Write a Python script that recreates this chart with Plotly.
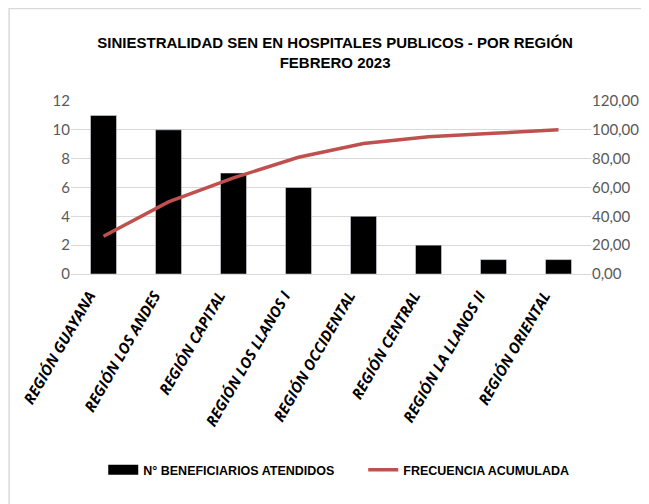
import plotly.graph_objects as go
from plotly.subplots import make_subplots

regiones = ["REGIÓN GUAYANA", "REGIÓN LOS ANDES", "REGIÓN CAPITAL", "REGIÓN LOS LLANOS I",
            "REGIÓN OCCIDENTAL", "REGIÓN CENTRAL", "REGIÓN LA LLANOS II", "REGIÓN ORIENTAL"]
beneficiarios = [11, 10, 7, 6, 4, 2, 1, 1]
frecuencia_acumulada = [26.19, 50.00, 66.67, 80.95, 90.48, 95.24, 97.62, 100.00]

fig = make_subplots(specs=[[{"secondary_y": True}]])

fig.add_trace(go.Bar(x=regiones, y=beneficiarios, name="N° BENEFICIARIOS ATENDIDOS",
                     marker=dict(color="black"), width=0.4, showlegend=False), secondary_y=False)
# entrada de leyenda con el rectángulo ancho (como en Excel)
fig.add_trace(go.Scatter(x=[None], y=[None], mode="lines", name="N° BENEFICIARIOS ATENDIDOS",
                         line=dict(color="black", width=10)), secondary_y=False)
fig.add_trace(go.Scatter(x=regiones, y=frecuencia_acumulada, mode="lines", name="FRECUENCIA ACUMULADA",
                         line=dict(color="#C0504D", width=3.5)), secondary_y=True)

tick_font = dict(family="Lato, Carlito, sans-serif", size=15, color="#595959")

# la página tiene 8px de margen en el body -> se compensa en los márgenes
fig.update_layout(
    width=649, height=504,
    margin=dict(l=63, r=66, t=93, b=238),
    paper_bgcolor="white", plot_bgcolor="white",
    separators=",.",
    title=dict(text="SINIESTRALIDAD SEN EN HOSPITALES PUBLICOS - POR REGIÓN<br>FEBRERO 2023",
               x=0.504, xanchor="center", y=0.92, yanchor="middle",
               font=dict(family="Liberation Sans Narrow, Arial Narrow, Liberation Sans, sans-serif", size=15,
                         color="black", weight="bold")),
    legend=dict(orientation="h", x=0.562, xanchor="center", y=-1.133, yanchor="middle",
                entrywidth=215,
                font=dict(family="Liberation Sans Narrow, Arial Narrow, Liberation Sans, sans-serif", size=12.5,
                          color="black", weight="bold")),
    showlegend=True,
)

fig.update_xaxes(domain=[0, 1], tickangle=-60, showgrid=False, showline=True, linecolor="#D9D9D9",
                 automargin=False, ticks="", ticklabelstandoff=6, ticklabelshift=-14,
                 tickfont=dict(family="Open Sans, sans-serif", size=15, color="black",
                               weight="bold", style="italic"))
fig.update_yaxes(range=[0, 12], dtick=2, showgrid=True, gridcolor="#D9D9D9", zeroline=False,
                 tickfont=tick_font, ticks="", automargin=False, secondary_y=False)
fig.update_yaxes(range=[0, 120], dtick=20, tickformat=".2f", showgrid=False, zeroline=False,
                 tickfont=tick_font, ticks="", automargin=False, secondary_y=True)

# borde gris del área del gráfico
fig.add_shape(type="rect", xref="paper", yref="paper", x0=-0.119, x1=1.3, y0=-1.6, y1=1.535,
              line=dict(color="#D9D9D9", width=1.5), fillcolor="rgba(0,0,0,0)", layer="below")

fig.write_html("out.html")
